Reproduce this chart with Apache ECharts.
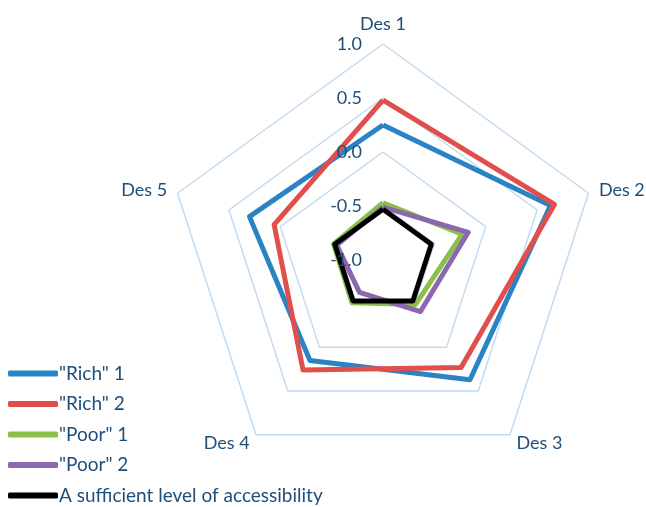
<!DOCTYPE html>
<html><head><meta charset="utf-8">
<script src="https://cdn.jsdelivr.net/npm/echarts@6/dist/echarts.min.js"></script>
<style>html,body{margin:0;padding:0;background:#fff}#c{width:646px;height:507px}</style>
</head><body><div id="c"></div>
<script>
const categories = ['Des 1', 'Des 2', 'Des 3', 'Des 4', 'Des 5'];
const seriesNames = ['"Rich" 1', '"Rich" 2', '"Poor" 1', '"Poor" 2', 'A sufficient level of accessibility'];
const rich1 = [0.25, 0.63, 0.37, 0.15, 0.30];
const rich2 = [0.48, 0.67, 0.23, 0.26, 0.06];
const poor1 = [-0.47, -0.23, -0.49, -0.51, -0.52];
const poor2 = [-0.51, -0.17, -0.41, -0.63, -0.55];
const sufficient = [-0.53, -0.53, -0.53, -0.53, -0.53];
const colors = ['#2a83c4', '#e04f4b', '#8bbf4a', '#8b68ad', '#000000'];
const axisMin = -1.0, axisMax = 1.0;

const allValues = [rich1, rich2, poor1, poor2, sufficient];
// ECharts lays radar axes counter-clockwise; reorder so they run clockwise
const order = [0, 4, 3, 2, 1];
const font = 'Lato';
const textColor = '#1f4e79';
function makeIndicator(withLabel) {
  return order.map((idx, i) => {
    const o = { name: categories[idx], min: axisMin, max: axisMax };
    if (withLabel && i === 0) o.axisLabel = { show: true };
    return o;
  });
}
const radarBase = { center: [383, 260], radius: 216, startAngle: 90, shape: 'polygon', splitNumber: 4,
  axisLine: { show: false }, axisTick: { show: false }, splitArea: { show: false } };
const chart = echarts.init(document.getElementById('c'));
chart.setOption({
  animation: false,
  color: colors,
  legend: {
    orient: 'vertical', left: 3, bottom: 0, padding: [0, 5, 2, 5],
    data: seriesNames,
    icon: 'roundRect', itemWidth: 50, itemHeight: 6, itemGap: 11.5,
    textStyle: { fontFamily: font, fontSize: 19, color: textColor, padding: [0,0,0,-4] }
  },
  radar: [
    Object.assign({}, radarBase, {
      z: 1,
      indicator: makeIndicator(false),
      axisName: { color: textColor, fontFamily: font, fontSize: 18 },
      nameGap: 11,
      axisLabel: { show: false },
      splitLine: { lineStyle: { color: '#c3dbf0', width: 1.5 } }
    }),
    Object.assign({}, radarBase, {
      z: 10,
      indicator: makeIndicator(true),
      axisName: { show: false },
      splitLine: { show: false },
      axisLabel: { show: false, color: textColor, fontFamily: font, fontSize: 18, margin: 21,
        formatter: v => Number(v).toFixed(1) }
    })
  ],
  series: [{
    type: 'radar', radarIndex: 0, symbol: 'none', z: 2,
    lineStyle: { width: 5 },
    data: allValues.map((v, i) => ({ name: seriesNames[i], value: order.map(k => v[k]),
      lineStyle: { color: colors[i], width: 5 }, itemStyle: { color: colors[i] } }))
  }]
});
</script></body></html>
